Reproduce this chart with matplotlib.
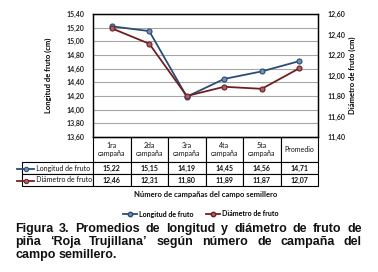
import matplotlib
matplotlib.use("Agg")
import matplotlib.pyplot as plt
from matplotlib.lines import Line2D

categories = ["1ra\ncampaña", "2da\ncampaña", "3ra\ncampaña", "4ta\ncampaña", "5ta\ncampaña", "Promedio"]
longitud = [15.22, 15.15, 14.19, 14.45, 14.56, 14.71]
diametro = [12.46, 12.31, 11.80, 11.89, 11.87, 12.07]
longitud_labels = ["15,22", "15,15", "14,19", "14,45", "14,56", "14,71"]
diametro_labels = ["12,46", "12,31", "11,80", "11,89", "11,87", "12,07"]
series_names = ["Longitud de fruto", "Diámetro de fruto"]
left_ticks = [13.6, 13.8, 14.0, 14.2, 14.4, 14.6, 14.8, 15.0, 15.2, 15.4]
right_ticks = [11.4, 11.6, 11.8, 12.0, 12.2, 12.4, 12.6]
caption_lines = ["Figura 3. Promedios de longitud y diámetro de fruto de",
                 "piña \u2018Roja Trujillana\u2019 según número de campaña del",
                 "campo semillero."]

BLUE = "#2A4D73"
BLUE_F = "#7290B2"
RED = "#6E1F22"
RED_F = "#A46466"
FONT = "Lato"

W, H = 378, 272
fig = plt.figure(figsize=(W / 100, H / 100), dpi=100)

def fx(px):
    return px / W

def fy(py):
    return 1 - py / H

ax_l, ax_r, ax_t, ax_b = 93, 318, 14, 137
aw = ax_r - ax_l
ah = ax_b - ax_t
ax = fig.add_axes([fx(ax_l), fy(ax_b), fx(ax_r) - fx(ax_l), fy(ax_t) - fy(ax_b)])
ax2 = ax.twinx()

x = list(range(len(categories)))
ax.set_xlim(-0.5, len(categories) - 0.5)
ax.set_ylim(13.6, 15.4)
ax2.set_ylim(11.4, 12.6)
ax.set_yticks(left_ticks)
ax.set_yticklabels([f"{v:.2f}".replace(".", ",") for v in left_ticks], fontsize=5, family=FONT, fontweight="bold")
ax2.set_yticks(right_ticks)
ax2.set_yticklabels([f"{v:.2f}".replace(".", ",") for v in right_ticks], fontsize=5, family=FONT, fontweight="bold")
ax.tick_params(axis="y", length=0, pad=6, colors="#222222")
ax2.tick_params(axis="y", length=0, pad=7, colors="#222222")
ax.set_xticks([])
ax.yaxis.grid(True, color="#A6A6A6", lw=0.8)
ax.set_axisbelow(True)
for a in (ax, ax2):
    for s in a.spines.values():
        s.set_color("black")
        s.set_linewidth(0.9)

ax.plot(x, longitud, color=BLUE, lw=1.3, marker="o", ms=3.6, mfc=BLUE_F, mec=BLUE, mew=0.8, zorder=5)
ax2.plot(x, diametro, color=RED, lw=1.3, marker="o", ms=3.6, mfc=RED_F, mec=RED, mew=0.8, zorder=5)

ax.set_ylabel("Longitud de fruto (cm)", fontsize=5.5, family=FONT, fontweight="bold")
ax.yaxis.set_label_coords((52 - ax_l) / aw, 0.5)
ax2.set_ylabel("Diámetro de fruto (cm)", fontsize=5.5, family=FONT, fontweight="bold", rotation=90)
ax2.yaxis.set_label_coords((349 - ax_l) / aw, 0.5)

# table
tbl_left = 15
row_lab_w = (ax_l - tbl_left) / aw
col_w = 1.0 / len(categories)
hdr_h = 25 / ah
row_h = 12 / ah
cell_text = [longitud_labels, diametro_labels]
tbl = ax.table(cellText=cell_text, rowLabels=["       " + s for s in series_names], colLabels=categories,
               cellLoc="center", rowLoc="left",
               bbox=[0, -(hdr_h + 2 * row_h), 1, hdr_h + 2 * row_h])
tbl.auto_set_font_size(False)
for (r, c), cell in tbl.get_celld().items():
    cell.set_linewidth(0.8)
    cell.set_edgecolor("black")
    cell.set_width(row_lab_w if c == -1 else col_w)
    cell.set_height(hdr_h if r == 0 else row_h)
    t = cell.get_text()
    t.set_fontsize(5)
    t.set_family(FONT)
    if r > 0 and c >= 0:
        t.set_fontweight("bold")
    t.set_color("#111111")
    if c == -1:
        cell.PAD = 0.02

# legend markers in row labels
for i, (col, fc) in enumerate([(BLUE, BLUE_F), (RED, RED_F)]):
    yy = fy(169 + 12 * i)
    fig.add_artist(Line2D([fx(17), fx(34)], [yy, yy], color=col, lw=1.3))
    fig.add_artist(Line2D([fx(25.5)], [yy], color=col, marker="o", ms=3.2, mfc=fc, mec=col, mew=0.7))

fig.text(fx((ax_l + ax_r) / 2), fy(195), "Número de campañas del campo semillero", fontsize=5.5,
         family=FONT, fontweight="bold", ha="center", va="center", color="#111111")

# bottom legend
handles = [Line2D([], [], color=BLUE, lw=1.3, marker="o", ms=3.2, mfc=BLUE_F, mec=BLUE),
           Line2D([], [], color=RED, lw=1.3, marker="o", ms=3.2, mfc=RED_F, mec=RED)]
fig.legend(handles, series_names, loc="center", bbox_to_anchor=(fx(201), fy(214)), ncol=2, frameon=False,
           prop={"family": FONT, "size": 5, "weight": "bold"}, handlelength=2.0, handletextpad=0.3,
           columnspacing=1.8, borderpad=0)

# justified caption
renderer = fig.canvas.get_renderer()
cap_left, cap_right = 15, 362
cap_kw = dict(fontsize=9, family="Liberation Sans", fontweight="bold", va="baseline", ha="left", color="#111111")
for li, line in enumerate(caption_lines):
    words = line.split(" ")
    ybase = fy(232 + 13 * li)
    texts = [fig.text(0, ybase, w, **cap_kw) for w in words]
    widths = [t.get_window_extent(renderer).width for t in texts]
    if li < len(caption_lines) - 1:
        gap = (cap_right - cap_left - sum(widths)) / (len(words) - 1)
    else:
        sp = fig.text(0, 0, "a a", **cap_kw)
        aa = fig.text(0, 0, "aa", **cap_kw)
        gap = sp.get_window_extent(renderer).width - aa.get_window_extent(renderer).width
        sp.remove(); aa.remove()
    xc = cap_left
    for t, w in zip(texts, widths):
        t.set_x(fx(xc))
        xc += w + gap

fig.savefig("out.png", dpi=100)
